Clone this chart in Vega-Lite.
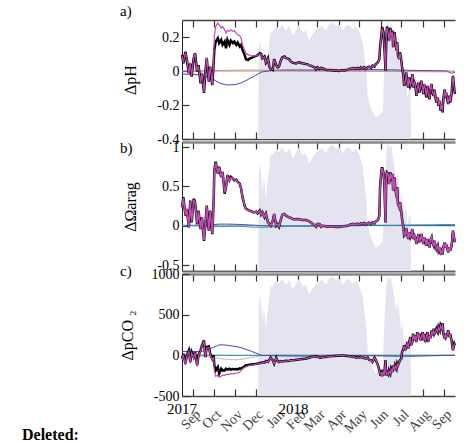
{
"$schema":"https://vega.github.io/schema/vega-lite/v6.json",
"background":"white",
"padding":{"left":22,"top":4,"right":0,"bottom":0},
"bounds":"flush",
"datasets":{
"main":[
{"t":"2017-08-16","ak":0.095,"am":0.09,"bk":0.235,"bm":0.23,"ck":-41,"cm":-55},
{"t":"2017-08-18","ak":0.045,"am":0.05,"bk":0.363,"bm":0.35,"ck":20,"cm":10},
{"t":"2017-08-21","ak":0.114,"am":0.11,"bk":0.128,"bm":0.135,"ck":-102,"cm":-120},
{"t":"2017-08-23","ak":0.065,"am":0.07,"bk":0.214,"bm":0.21,"ck":0,"cm":-10},
{"t":"2017-08-26","ak":-0.014,"am":-0.02,"bk":-0.02,"bm":-0.03,"ck":61,"cm":50},
{"t":"2017-08-28","ak":0.045,"am":0.05,"bk":0.32,"bm":0.31,"ck":-82,"cm":-95},
{"t":"2017-08-30","ak":-0.033,"am":-0.03,"bk":0.043,"bm":0.05,"ck":41,"cm":30},
{"t":"2017-09-02","ak":0.075,"am":0.08,"bk":0.342,"bm":0.33,"ck":-20,"cm":-30},
{"t":"2017-09-04","ak":0.104,"am":0.1,"bk":0.3,"bm":0.29,"ck":41,"cm":35},
{"t":"2017-09-07","ak":-0.004,"am":0,"bk":0.021,"bm":0.03,"ck":-123,"cm":-135},
{"t":"2017-09-09","ak":0.035,"am":0.03,"bk":0.192,"bm":0.19,"ck":0,"cm":-10},
{"t":"2017-09-12","ak":-0.073,"am":-0.07,"bk":-0.043,"bm":-0.04,"ck":61,"cm":55},
{"t":"2017-09-14","ak":-0.014,"am":-0.01,"bk":0.107,"bm":0.1,"ck":123,"cm":115},
{"t":"2017-09-17","ak":-0.128,"am":-0.125,"bk":-0.192,"bm":-0.185,"ck":184,"cm":170},
{"t":"2017-09-19","ak":-0.004,"am":0,"bk":0.021,"bm":0.03,"ck":-20,"cm":-30},
{"t":"2017-09-21","ak":0.075,"am":0.08,"bk":0.256,"bm":0.25,"ck":102,"cm":90},
{"t":"2017-09-24","ak":-0.063,"am":-0.06,"bk":-0.064,"bm":-0.06,"ck":111,"cm":100},
{"t":"2017-09-26","ak":0.026,"am":0.03,"bk":0.192,"bm":0.19,"ck":20,"cm":10},
{"t":"2017-09-29","ak":-0.083,"am":-0.08,"bk":-0.107,"bm":-0.1,"ck":-41,"cm":-60},
{"t":"2017-10-01","ak":0.045,"am":0.06,"bk":0.3,"bm":0.3,"ck":0,"cm":-20},
{"t":"2017-10-02","ak":0.124,"am":0.203,"bk":0.705,"bm":0.7,"ck":-123,"cm":-185},
{"t":"2017-10-04","ak":0.173,"am":0.262,"bk":0.812,"bm":0.8,"ck":-185,"cm":-258},
{"t":"2017-10-07","ak":0.193,"am":0.282,"bk":0.662,"bm":0.67,"ck":-144,"cm":-246},
{"t":"2017-10-09","ak":0.164,"am":0.272,"bk":0.748,"bm":0.74,"ck":-225,"cm":-266},
{"t":"2017-10-12","ak":0.183,"am":0.252,"bk":0.62,"bm":0.63,"ck":-164,"cm":-258},
{"t":"2017-10-14","ak":0.154,"am":0.262,"bk":0.684,"bm":0.68,"ck":-185,"cm":-246},
{"t":"2017-10-17","ak":0.173,"am":0.242,"bk":0.406,"bm":0.42,"ck":-185,"cm":-246},
{"t":"2017-10-19","ak":0.134,"am":0.223,"bk":0.491,"bm":0.49,"ck":-164,"cm":-234},
{"t":"2017-10-21","ak":0.183,"am":0.238,"bk":0.641,"bm":0.63,"ck":-176,"cm":-234},
{"t":"2017-10-24","ak":0.154,"am":0.233,"bk":0.577,"bm":0.57,"ck":-164,"cm":-234},
{"t":"2017-10-26","ak":0.179,"am":0.242,"bk":0.62,"bm":0.61,"ck":-176,"cm":-225},
{"t":"2017-10-29","ak":0.164,"am":0.233,"bk":0.598,"bm":0.6,"ck":-168,"cm":-225},
{"t":"2017-10-31","ak":0.173,"am":0.238,"bk":0.577,"bm":0.58,"ck":-172,"cm":-225},
{"t":"2017-11-03","ak":0.154,"am":0.223,"bk":0.585,"bm":0.58,"ck":-168,"cm":-217},
{"t":"2017-11-05","ak":0.167,"am":0.213,"bk":0.556,"bm":0.55,"ck":-172,"cm":-217},
{"t":"2017-11-08","ak":0.144,"am":0.207,"bk":0.534,"bm":0.53,"ck":-160,"cm":-205},
{"t":"2017-11-10","ak":0.154,"am":0.193,"bk":0.47,"bm":0.47,"ck":-164,"cm":-185},
{"t":"2017-11-12","ak":0.124,"am":0.154,"bk":0.363,"bm":0.36,"ck":-152,"cm":-165},
{"t":"2017-11-15","ak":0.095,"am":0.124,"bk":0.256,"bm":0.26,"ck":-135,"cm":-150},
{"t":"2017-11-17","ak":0.069,"am":0.104,"bk":0.214,"bm":0.21,"ck":-123,"cm":-140},
{"t":"2017-11-20","ak":0.065,"am":0.095,"bk":0.2,"bm":0.2,"ck":-119,"cm":-130},
{"t":"2017-11-22","ak":0.073,"am":0.095,"bk":0.192,"bm":0.19,"ck":-115,"cm":-125},
{"t":"2017-11-24","ak":0.075,"am":0.089,"bk":0.184,"bm":0.18,"ck":-115,"cm":-122},
{"t":"2017-11-27","ak":0.081,"am":0.089,"bk":0.171,"bm":0.17,"ck":-111,"cm":-118},
{"t":"2017-11-29","ak":0.085,"am":0.089,"bk":0.171,"bm":0.17,"ck":-111,"cm":-115},
{"t":"2017-12-02","ak":0.089,"am":0.089,"bk":0.179,"bm":0.18,"ck":-102,"cm":-108},
{"t":"2017-12-04","ak":0.093,"am":0.093,"bk":0.158,"bm":0.16,"ck":-102,"cm":-106},
{"t":"2017-12-07","ak":0.104,"am":0.1,"bk":0.192,"bm":0.19,"ck":-94,"cm":-98},
{"t":"2017-12-09","ak":0.1,"am":0.098,"bk":0.141,"bm":0.14,"ck":-94,"cm":-96},
{"t":"2017-12-11","ak":0.075,"am":0.075,"bk":0.171,"bm":0.17,"ck":-86,"cm":-90},
{"t":"2017-12-14","ak":0.085,"am":0.083,"bk":0.107,"bm":0.11,"ck":-90,"cm":-92},
{"t":"2017-12-16","ak":0.049,"am":0.05,"bk":0.15,"bm":0.15,"ck":-70,"cm":-72},
{"t":"2017-12-19","ak":0.075,"am":0.073,"bk":0.043,"bm":0.045,"ck":-82,"cm":-84},
{"t":"2017-12-21","ak":0.026,"am":0.028,"bk":0.021,"bm":0.02,"ck":-53,"cm":-55},
{"t":"2017-12-23","ak":0.01,"am":0.01,"bk":0,"bm":0,"ck":-29,"cm":-31},
{"t":"2017-12-26","ak":0.006,"am":0.008,"bk":0.064,"bm":0.06,"ck":-61,"cm":-62},
{"t":"2017-12-28","ak":0.069,"am":0.067,"bk":0.15,"bm":0.15,"ck":-102,"cm":-104},
{"t":"2017-12-31","ak":0.035,"am":0.035,"bk":0,"bm":0.002,"ck":-29,"cm":-30},
{"t":"2018-01-02","ak":0.022,"am":0.022,"bk":0.021,"bm":0.02,"ck":-70,"cm":-72},
{"t":"2018-01-04","ak":0.026,"am":0.026,"bk":-0.013,"bm":-0.01,"ck":-82,"cm":-83},
{"t":"2018-01-07","ak":0.065,"am":0.065,"bk":0.085,"bm":0.085,"ck":-70,"cm":-72},
{"t":"2018-01-09","ak":0.081,"am":0.08,"bk":0.141,"bm":0.14,"ck":-74,"cm":-75},
{"t":"2018-01-12","ak":0.085,"am":0.084,"bk":0.15,"bm":0.15,"ck":-70,"cm":-72},
{"t":"2018-01-14","ak":0.077,"am":0.077,"bk":0.128,"bm":0.13,"ck":-66,"cm":-67},
{"t":"2018-01-17","ak":0.073,"am":0.072,"bk":0.115,"bm":0.115,"ck":-70,"cm":-70},
{"t":"2018-01-19","ak":0.069,"am":0.069,"bk":0.107,"bm":0.107,"ck":-66,"cm":-66},
{"t":"2018-01-21","ak":0.055,"am":0.055,"bk":0.098,"bm":0.098,"ck":-61,"cm":-62},
{"t":"2018-01-24","ak":0.049,"am":0.05,"bk":0.085,"bm":0.085,"ck":-61,"cm":-61},
{"t":"2018-01-26","ak":0.047,"am":0.047,"bk":0.081,"bm":0.08,"ck":-61,"cm":-60},
{"t":"2018-01-29","ak":0.045,"am":0.045,"bk":0.081,"bm":0.08,"ck":-53,"cm":-54},
{"t":"2018-01-31","ak":0.049,"am":0.048,"bk":0.085,"bm":0.085,"ck":-53,"cm":-53},
{"t":"2018-02-03","ak":0.051,"am":0.05,"bk":0.081,"bm":0.08,"ck":-49,"cm":-50},
{"t":"2018-02-05","ak":0.047,"am":0.047,"bk":0.077,"bm":0.077,"ck":-49,"cm":-48},
{"t":"2018-02-07","ak":0.045,"am":0.045,"bk":0.073,"bm":0.073,"ck":-45,"cm":-45},
{"t":"2018-02-10","ak":0.043,"am":0.043,"bk":0.073,"bm":0.072,"ck":-41,"cm":-42},
{"t":"2018-02-12","ak":0.041,"am":0.041,"bk":0.073,"bm":0.072,"ck":-41,"cm":-40},
{"t":"2018-02-15","ak":0.039,"am":0.039,"bk":0.064,"bm":0.064,"ck":-33,"cm":-34},
{"t":"2018-02-17","ak":0.033,"am":0.033,"bk":0.056,"bm":0.056,"ck":-29,"cm":-30},
{"t":"2018-02-20","ak":0.031,"am":0.031,"bk":0.038,"bm":0.038,"ck":-20,"cm":-22},
{"t":"2018-02-22","ak":0.026,"am":0.026,"bk":0.021,"bm":0.022,"ck":-16,"cm":-17},
{"t":"2018-02-25","ak":0.022,"am":0.022,"bk":0.009,"bm":0.01,"ck":-12,"cm":-14},
{"t":"2018-02-27","ak":0.01,"am":0.01,"bk":-0.013,"bm":-0.012,"ck":-20,"cm":-21},
{"t":"2018-03-01","ak":0.022,"am":0.021,"bk":0.021,"bm":0.02,"ck":-12,"cm":-14},
{"t":"2018-03-04","ak":0.012,"am":0.014,"bk":0.021,"bm":0.02,"ck":-29,"cm":-31},
{"t":"2018-03-06","ak":0.018,"am":0.017,"bk":-0.013,"bm":-0.01,"ck":-29,"cm":-30},
{"t":"2018-03-08","ak":0.016,"am":0.015,"bk":0,"bm":0.002,"ck":-25,"cm":-26},
{"t":"2018-03-11","ak":0.012,"am":0.012,"bk":-0.004,"bm":-0.004,"ck":-20,"cm":-22},
{"t":"2018-03-13","ak":0.008,"am":0.009,"bk":-0.008,"bm":-0.008,"ck":-20,"cm":-20},
{"t":"2018-03-15","ak":0.006,"am":0.006,"bk":-0.013,"bm":-0.012,"ck":-16,"cm":-17},
{"t":"2018-03-18","ak":0.006,"am":0.005,"bk":-0.013,"bm":-0.013,"ck":-12,"cm":-13},
{"t":"2018-03-20","ak":0.004,"am":0.004,"bk":-0.008,"bm":-0.009,"ck":-12,"cm":-12},
{"t":"2018-03-23","ak":0.006,"am":0.006,"bk":-0.013,"bm":-0.012,"ck":-8,"cm":-9},
{"t":"2018-03-25","ak":0.002,"am":0.003,"bk":-0.013,"bm":-0.013,"ck":-8,"cm":-8},
{"t":"2018-03-28","ak":0.004,"am":0.004,"bk":-0.017,"bm":-0.016,"ck":-4,"cm":-5},
{"t":"2018-03-30","ak":0.002,"am":0.002,"bk":-0.013,"bm":-0.013,"ck":-4,"cm":-4},
{"t":"2018-04-02","ak":0,"am":0.001,"bk":-0.017,"bm":-0.016,"ck":-4,"cm":-5},
{"t":"2018-04-04","ak":0.002,"am":0.002,"bk":-0.013,"bm":-0.013,"ck":-4,"cm":-4},
{"t":"2018-04-06","ak":0.004,"am":0.003,"bk":-0.008,"bm":-0.008,"ck":0,"cm":-1},
{"t":"2018-04-09","ak":0.002,"am":0.002,"bk":-0.008,"bm":-0.008,"ck":-4,"cm":-4},
{"t":"2018-04-11","ak":0.006,"am":0.006,"bk":-0.004,"bm":-0.004,"ck":-4,"cm":-5},
{"t":"2018-04-14","ak":0.008,"am":0.008,"bk":0,"bm":0,"ck":-8,"cm":-8},
{"t":"2018-04-16","ak":0.012,"am":0.011,"bk":0.008,"bm":0.008,"ck":-12,"cm":-12},
{"t":"2018-04-18","ak":0.014,"am":0.014,"bk":0.017,"bm":0.016,"ck":-12,"cm":-13},
{"t":"2018-04-21","ak":0.016,"am":0.016,"bk":0.021,"bm":0.02,"ck":-20,"cm":-20},
{"t":"2018-04-23","ak":0.018,"am":0.017,"bk":0.021,"bm":0.021,"ck":-16,"cm":-17},
{"t":"2018-04-26","ak":0.014,"am":0.014,"bk":0.017,"bm":0.017,"ck":-29,"cm":-29},
{"t":"2018-04-28","ak":0.018,"am":0.018,"bk":0.025,"bm":0.024,"ck":-20,"cm":-21},
{"t":"2018-05-01","ak":0.012,"am":0.012,"bk":0.013,"bm":0.013,"ck":-29,"cm":-30},
{"t":"2018-05-03","ak":0.022,"am":0.021,"bk":0.03,"bm":0.03,"ck":-20,"cm":-21},
{"t":"2018-05-06","ak":0.016,"am":0.016,"bk":0.021,"bm":0.021,"ck":-33,"cm":-34},
{"t":"2018-05-08","ak":0.022,"am":0.022,"bk":0.034,"bm":0.033,"ck":-29,"cm":-29},
{"t":"2018-05-10","ak":0.012,"am":0.012,"bk":0.013,"bm":0.014,"ck":-41,"cm":-42},
{"t":"2018-05-13","ak":0.022,"am":0.021,"bk":0.03,"bm":0.03,"ck":-29,"cm":-30},
{"t":"2018-05-15","ak":0.026,"am":0.026,"bk":0.038,"bm":0.037,"ck":-53,"cm":-54},
{"t":"2018-05-18","ak":0.018,"am":0.018,"bk":0.021,"bm":0.022,"ck":-61,"cm":-62},
{"t":"2018-05-20","ak":0.032,"am":0.031,"bk":0.042,"bm":0.042,"ck":-82,"cm":-83},
{"t":"2018-05-23","ak":0.026,"am":0.026,"bk":0.03,"bm":0.03,"ck":-29,"cm":-30},
{"t":"2018-05-25","ak":0.041,"am":0.04,"bk":0.055,"bm":0.054,"ck":-61,"cm":-62},
{"t":"2018-05-28","ak":0.051,"am":0.05,"bk":0.072,"bm":0.07,"ck":-123,"cm":-125},
{"t":"2018-05-30","ak":0.071,"am":0.07,"bk":0.127,"bm":0.12,"ck":-185,"cm":-190},
{"t":"2018-05-31","ak":0.14,"am":0.135,"bk":0.487,"bm":0.48,"ck":-225,"cm":-230},
{"t":"2018-06-02","ak":0.209,"am":0.205,"bk":0.699,"bm":0.69,"ck":-205,"cm":-210},
{"t":"2018-06-03","ak":0.258,"am":0.25,"bk":0.742,"bm":0.73,"ck":-258,"cm":-262},
{"t":"2018-06-05","ak":0.229,"am":0.225,"bk":0.678,"bm":0.67,"ck":-185,"cm":-190},
{"t":"2018-06-06","ak":0.16,"am":0.158,"bk":0.572,"bm":0.565,"ck":-246,"cm":-250},
{"t":"2018-06-08","ak":0.002,"am":0.005,"bk":0.042,"bm":0.045,"ck":-60,"cm":-64},
{"t":"2018-06-09","ak":0.17,"am":0.165,"bk":0.614,"bm":0.605,"ck":-246,"cm":-250},
{"t":"2018-06-10","ak":0.262,"am":0.255,"bk":0.678,"bm":0.67,"ck":-205,"cm":-210},
{"t":"2018-06-12","ak":0.229,"am":0.225,"bk":0.657,"bm":0.65,"ck":-234,"cm":-238},
{"t":"2018-06-13","ak":0.179,"am":0.176,"bk":0.53,"bm":0.525,"ck":-185,"cm":-190},
{"t":"2018-06-15","ak":0.254,"am":0.248,"bk":0.678,"bm":0.67,"ck":-225,"cm":-230},
{"t":"2018-06-16","ak":0.209,"am":0.205,"bk":0.614,"bm":0.61,"ck":-164,"cm":-168},
{"t":"2018-06-18","ak":0.238,"am":0.232,"bk":0.657,"bm":0.65,"ck":-205,"cm":-210},
{"t":"2018-06-19","ak":0.14,"am":0.138,"bk":0.445,"bm":0.44,"ck":-123,"cm":-127},
{"t":"2018-06-21","ak":0.229,"am":0.224,"bk":0.614,"bm":0.61,"ck":-185,"cm":-190},
{"t":"2018-06-22","ak":0.189,"am":0.185,"bk":0.487,"bm":0.48,"ck":-123,"cm":-127},
{"t":"2018-06-24","ak":0.12,"am":0.118,"bk":0.36,"bm":0.355,"ck":-164,"cm":-168},
{"t":"2018-06-25","ak":0.169,"am":0.165,"bk":0.487,"bm":0.48,"ck":-102,"cm":-106},
{"t":"2018-06-26","ak":0.091,"am":0.09,"bk":0.275,"bm":0.27,"ck":-123,"cm":-126},
{"t":"2018-06-28","ak":0.071,"am":0.07,"bk":0.233,"bm":0.23,"ck":-82,"cm":-85},
{"t":"2018-06-29","ak":0.11,"am":0.107,"bk":0.297,"bm":0.29,"ck":-61,"cm":-64},
{"t":"2018-07-01","ak":0.061,"am":0.06,"bk":0.169,"bm":0.165,"ck":-41,"cm":-44},
{"t":"2018-07-02","ak":0.022,"am":0.022,"bk":0.085,"bm":0.083,"ck":41,"cm":38},
{"t":"2018-07-04","ak":-0.028,"am":-0.027,"bk":-0.021,"bm":-0.02,"ck":82,"cm":79},
{"t":"2018-07-05","ak":-0.087,"am":-0.085,"bk":-0.127,"bm":-0.125,"ck":123,"cm":120},
{"t":"2018-07-07","ak":-0.067,"am":-0.066,"bk":-0.106,"bm":-0.105,"ck":61,"cm":58},
{"t":"2018-07-08","ak":-0.008,"am":-0.009,"bk":-0.03,"bm":-0.03,"ck":102,"cm":99},
{"t":"2018-07-10","ak":-0.077,"am":-0.076,"bk":-0.127,"bm":-0.125,"ck":164,"cm":160},
{"t":"2018-07-11","ak":-0.097,"am":-0.095,"bk":-0.169,"bm":-0.166,"ck":82,"cm":79},
{"t":"2018-07-12","ak":-0.037,"am":-0.037,"bk":-0.085,"bm":-0.084,"ck":143,"cm":140},
{"t":"2018-07-14","ak":-0.087,"am":-0.086,"bk":-0.148,"bm":-0.146,"ck":225,"cm":221},
{"t":"2018-07-15","ak":-0.077,"am":-0.076,"bk":-0.127,"bm":-0.125,"ck":123,"cm":120},
{"t":"2018-07-17","ak":-0.018,"am":-0.019,"bk":-0.042,"bm":-0.042,"ck":164,"cm":160},
{"t":"2018-07-18","ak":-0.097,"am":-0.095,"bk":-0.169,"bm":-0.166,"ck":266,"cm":262},
{"t":"2018-07-20","ak":-0.067,"am":-0.066,"bk":-0.127,"bm":-0.125,"ck":184,"cm":180},
{"t":"2018-07-21","ak":-0.077,"am":-0.076,"bk":-0.148,"bm":-0.146,"ck":246,"cm":242},
{"t":"2018-07-23","ak":-0.146,"am":-0.143,"bk":-0.233,"bm":-0.23,"ck":164,"cm":160},
{"t":"2018-07-24","ak":-0.108,"am":-0.106,"bk":-0.169,"bm":-0.167,"ck":287,"cm":283},
{"t":"2018-07-26","ak":-0.067,"am":-0.066,"bk":-0.106,"bm":-0.105,"ck":205,"cm":201},
{"t":"2018-07-27","ak":-0.126,"am":-0.124,"bk":-0.212,"bm":-0.21,"ck":266,"cm":262},
{"t":"2018-07-29","ak":-0.097,"am":-0.095,"bk":-0.169,"bm":-0.167,"ck":184,"cm":180},
{"t":"2018-07-30","ak":-0.057,"am":-0.056,"bk":-0.106,"bm":-0.105,"ck":225,"cm":221},
{"t":"2018-08-01","ak":-0.108,"am":-0.106,"bk":-0.191,"bm":-0.189,"ck":287,"cm":283},
{"t":"2018-08-02","ak":-0.136,"am":-0.134,"bk":-0.233,"bm":-0.23,"ck":184,"cm":180},
{"t":"2018-08-03","ak":-0.077,"am":-0.076,"bk":-0.148,"bm":-0.146,"ck":266,"cm":262},
{"t":"2018-08-05","ak":-0.108,"am":-0.106,"bk":-0.191,"bm":-0.189,"ck":164,"cm":160},
{"t":"2018-08-06","ak":-0.156,"am":-0.153,"bk":-0.254,"bm":-0.251,"ck":225,"cm":221},
{"t":"2018-08-08","ak":-0.087,"am":-0.086,"bk":-0.169,"bm":-0.167,"ck":287,"cm":283},
{"t":"2018-08-09","ak":-0.136,"am":-0.134,"bk":-0.233,"bm":-0.23,"ck":164,"cm":160},
{"t":"2018-08-11","ak":-0.166,"am":-0.163,"bk":-0.275,"bm":-0.272,"ck":246,"cm":242},
{"t":"2018-08-12","ak":-0.116,"am":-0.114,"bk":-0.191,"bm":-0.189,"ck":205,"cm":201},
{"t":"2018-08-14","ak":-0.077,"am":-0.076,"bk":-0.148,"bm":-0.146,"ck":307,"cm":303},
{"t":"2018-08-15","ak":-0.126,"am":-0.124,"bk":-0.212,"bm":-0.21,"ck":246,"cm":242},
{"t":"2018-08-17","ak":-0.146,"am":-0.143,"bk":-0.254,"bm":-0.251,"ck":328,"cm":324},
{"t":"2018-08-18","ak":-0.108,"am":-0.106,"bk":-0.191,"bm":-0.189,"ck":266,"cm":262},
{"t":"2018-08-20","ak":-0.166,"am":-0.163,"bk":-0.267,"bm":-0.264,"ck":300,"cm":296},
{"t":"2018-08-21","ak":-0.185,"am":-0.182,"bk":-0.297,"bm":-0.294,"ck":328,"cm":324},
{"t":"2018-08-23","ak":-0.156,"am":-0.153,"bk":-0.254,"bm":-0.251,"ck":287,"cm":283},
{"t":"2018-08-24","ak":-0.205,"am":-0.202,"bk":-0.318,"bm":-0.315,"ck":348,"cm":344},
{"t":"2018-08-26","ak":-0.175,"am":-0.172,"bk":-0.275,"bm":-0.272,"ck":307,"cm":303},
{"t":"2018-08-27","ak":-0.234,"am":-0.23,"bk":-0.36,"bm":-0.356,"ck":370,"cm":366},
{"t":"2018-08-29","ak":-0.205,"am":-0.202,"bk":-0.318,"bm":-0.315,"ck":328,"cm":324},
{"t":"2018-08-30","ak":-0.244,"am":-0.24,"bk":-0.369,"bm":-0.365,"ck":395,"cm":390},
{"t":"2018-08-31","ak":-0.166,"am":-0.163,"bk":-0.275,"bm":-0.272,"ck":266,"cm":262},
{"t":"2018-09-02","ak":-0.108,"am":-0.106,"bk":-0.212,"bm":-0.21,"ck":205,"cm":201},
{"t":"2018-09-03","ak":-0.156,"am":-0.153,"bk":-0.275,"bm":-0.272,"ck":266,"cm":262},
{"t":"2018-09-04","ak":-0.126,"am":-0.124,"bk":-0.233,"bm":-0.23,"ck":225,"cm":221},
{"t":"2018-09-06","ak":-0.166,"am":-0.163,"bk":-0.297,"bm":-0.294,"ck":266,"cm":262},
{"t":"2018-09-07","ak":-0.195,"am":-0.192,"bk":-0.339,"bm":-0.335,"ck":307,"cm":303},
{"t":"2018-09-09","ak":-0.146,"am":-0.143,"bk":-0.275,"bm":-0.272,"ck":225,"cm":221},
{"t":"2018-09-10","ak":-0.185,"am":-0.182,"bk":-0.318,"bm":-0.315,"ck":266,"cm":262},
{"t":"2018-09-12","ak":-0.136,"am":-0.134,"bk":-0.254,"bm":-0.251,"ck":184,"cm":180},
{"t":"2018-09-13","ak":-0.077,"am":-0.076,"bk":-0.169,"bm":-0.167,"ck":123,"cm":120},
{"t":"2018-09-14","ak":-0.028,"am":-0.028,"bk":-0.064,"bm":-0.063,"ck":61,"cm":58},
{"t":"2018-09-16","ak":-0.108,"am":-0.106,"bk":-0.169,"bm":-0.167,"ck":143,"cm":140},
{"t":"2018-09-17","ak":-0.136,"am":-0.134,"bk":-0.212,"bm":-0.21,"ck":123,"cm":120}
],
"minor":[
{"t":"2017-08-16","ab":-0.018,"ar":0,"bb":0.005,"bt":0,"cb":49,"cg":-10,"ct":5},
{"t":"2017-09-01","ab":-0.02,"ar":0,"bb":0.005,"bt":0,"cb":45,"cg":-10,"ct":5},
{"t":"2017-09-15","ab":-0.025,"ar":0.001,"bb":0.008,"bt":-0.005,"cb":50,"cg":-15,"ct":3},
{"t":"2017-10-01","ab":-0.05,"ar":0.002,"bb":0.015,"bt":-0.01,"cb":100,"cg":-25,"ct":0},
{"t":"2017-10-10","ab":-0.072,"ar":0.003,"bb":0.02,"bt":-0.012,"cb":130,"cg":-40,"ct":0},
{"t":"2017-10-20","ab":-0.082,"ar":0.004,"bb":0.02,"bt":-0.01,"cb":125,"cg":-50,"ct":0},
{"t":"2017-11-01","ab":-0.08,"ar":0.005,"bb":0.018,"bt":-0.008,"cb":110,"cg":-55,"ct":0},
{"t":"2017-11-10","ab":-0.07,"ar":0.006,"bb":0.015,"bt":-0.01,"cb":94,"cg":-50,"ct":0},
{"t":"2017-11-20","ab":-0.05,"ar":0.007,"bb":0.01,"bt":-0.015,"cb":65,"cg":-35,"ct":0},
{"t":"2017-12-01","ab":-0.025,"ar":0.006,"bb":0.005,"bt":-0.02,"cb":30,"cg":-15,"ct":0},
{"t":"2017-12-10","ab":-0.006,"ar":0.005,"bb":0,"bt":-0.02,"cb":0,"cg":-5,"ct":0},
{"t":"2017-12-25","ab":0.004,"ar":0.003,"bb":-0.005,"bt":-0.015,"cb":-5,"cg":5,"ct":0},
{"t":"2018-01-15","ab":0.006,"ar":0.002,"bb":-0.005,"bt":-0.01,"cb":-8,"cg":5,"ct":0},
{"t":"2018-02-15","ab":0.006,"ar":0.001,"bb":-0.005,"bt":-0.005,"cb":-10,"cg":3,"ct":0},
{"t":"2018-03-15","ab":0.006,"ar":0,"bb":-0.004,"bt":0,"cb":-8,"cg":2,"ct":0},
{"t":"2018-04-15","ab":0.007,"ar":0,"bb":0,"bt":0.005,"cb":-5,"cg":0,"ct":0},
{"t":"2018-05-15","ab":0.008,"ar":-0.001,"bb":0.003,"bt":0.008,"cb":-5,"cg":0,"ct":0},
{"t":"2018-06-15","ab":0.007,"ar":-0.002,"bb":0.003,"bt":0.005,"cb":-10,"cg":0,"ct":0},
{"t":"2018-07-15","ab":0.004,"ar":-0.004,"bb":0.002,"bt":0.01,"cb":-12,"cg":0,"ct":0},
{"t":"2018-08-15","ab":0.002,"ar":-0.005,"bb":0.002,"bt":0.012,"cb":-5,"cg":0,"ct":0},
{"t":"2018-09-05","ab":0,"ar":-0.005,"bb":0.001,"bt":0.015,"cb":0,"cg":0,"ct":0},
{"t":"2018-09-12","ab":-0.014,"ar":-0.005,"bb":0.001,"bt":0.015,"cb":0,"cg":0,"ct":0},
{"t":"2018-09-17","ab":-0.006,"ar":-0.005,"bb":0.001,"bt":0.015,"cb":0,"cg":0,"ct":0}
],
"ice":[
{"t":"2017-12-05T00:00:00","f":0},{"t":"2017-12-05T12:00:00","f":0.76},{"t":"2017-12-08","f":0.83},{"t":"2017-12-11","f":0.61},{"t":"2017-12-13","f":0.73},{"t":"2017-12-16","f":0.56},{"t":"2017-12-18","f":0.67},{"t":"2017-12-21","f":0.81},{"t":"2017-12-23","f":0.91},{"t":"2017-12-26","f":0.9},{"t":"2017-12-30","f":0.94},
{"t":"2018-01-04","f":0.92},{"t":"2018-01-09","f":0.96},{"t":"2018-01-14","f":0.91},{"t":"2018-01-19","f":0.95},{"t":"2018-01-24","f":0.87},{"t":"2018-01-29","f":0.92},{"t":"2018-02-02","f":0.96},{"t":"2018-02-07","f":0.9},{"t":"2018-02-12","f":0.91},{"t":"2018-02-17","f":0.83},{"t":"2018-02-22","f":0.88},{"t":"2018-02-27","f":0.92},
{"t":"2018-03-04","f":0.94},{"t":"2018-03-08","f":0.95},{"t":"2018-03-13","f":0.91},{"t":"2018-03-18","f":0.96},{"t":"2018-03-23","f":0.98},{"t":"2018-03-28","f":0.95},{"t":"2018-04-02","f":0.96},{"t":"2018-04-07","f":0.91},{"t":"2018-04-11","f":0.95},{"t":"2018-04-16","f":0.96},{"t":"2018-04-21","f":0.92},{"t":"2018-04-26","f":0.95},
{"t":"2018-05-01","f":0.9},{"t":"2018-05-06","f":0.81},{"t":"2018-05-08","f":0.7},{"t":"2018-05-11","f":0.56},{"t":"2018-05-13","f":0.37},{"t":"2018-05-16","f":0.29},{"t":"2018-05-20","f":0.23},{"t":"2018-05-25","f":0.18},{"t":"2018-05-30","f":0.2},{"t":"2018-06-04","f":0.23},{"t":"2018-06-06","f":0.56},{"t":"2018-06-09","f":0.9},{"t":"2018-06-11","f":0.99},{"t":"2018-06-14","f":0.95},{"t":"2018-06-16","f":0.98},{"t":"2018-06-19","f":0.87},{"t":"2018-06-21","f":0.79},{"t":"2018-06-23","f":0.7},{"t":"2018-06-26","f":0.76},{"t":"2018-06-28","f":0.67},
{"t":"2018-07-01","f":0.54},{"t":"2018-07-03","f":0.59},{"t":"2018-07-05","f":0.43},{"t":"2018-07-08","f":0.49},{"t":"2018-07-10","f":0.34},{"t":"2018-07-12","f":0.43},{"t":"2018-07-14T12:00:00","f":0.43},{"t":"2018-07-15","f":0}
]
},
"title":{"text":"Deleted:","orient":"bottom","anchor":"start","frame":"bounds","dx":-97,"offset":-8,"fontSize":16,"fontWeight":"bold","font":"Liberation Serif","color":"#000"},
"spacing":3,
"vconcat":[
{
"width":273,"height":119,
"title":{"text":"a)","anchor":"start","frame":"group","dx":-62,"offset":0,"fontSize":15},
"layer":[
{"data":{"name":"ice"},"mark":{"type":"area","color":"#e4e4f1"},
"encoding":{"x":{"field":"t","type":"temporal","scale":{"domain":[{"year":2017,"month":8,"date":16},{"year":2018,"month":9,"date":17}]},"axis":{"orient":"top","labels":false,"title":null,"tickCount":{"interval":"month","step":1},"domainColor":"#444","domainWidth":1.5,"tickSize":-7}},
"y":{"field":"f","type":"quantitative","scale":{"domain":[0,1],"nice":false},"axis":null}}},
{"data":{"values":[{}]},"mark":{"type":"rule","color":"#999","strokeWidth":1},"encoding":{"y":{"datum":0,"type":"quantitative","scale":{"domain":[-0.4,0.3],"nice":false},"axis":null}}},
{"data":{"name":"minor"},"mark":{"type":"line","color":"#3b4cc0","strokeWidth":1},"encoding":{"x":{"field":"t","type":"temporal","scale":{"domain":[{"year":2017,"month":8,"date":16},{"year":2018,"month":9,"date":17}]},"axis":null},"y":{"field":"ab","type":"quantitative","scale":{"domain":[-0.4,0.3],"nice":false},"axis":null}}},
{"data":{"name":"minor"},"mark":{"type":"line","color":"#e0603a","strokeWidth":0.8,"opacity":0.7},"encoding":{"x":{"field":"t","type":"temporal","scale":{"domain":[{"year":2017,"month":8,"date":16},{"year":2018,"month":9,"date":17}]},"axis":null},"y":{"field":"ar","type":"quantitative","scale":{"domain":[-0.4,0.3],"nice":false},"axis":null}}},
{"data":{"name":"main"},"mark":{"type":"line","color":"#000","strokeWidth":2.5},"encoding":{"x":{"field":"t","type":"temporal","scale":{"domain":[{"year":2017,"month":8,"date":16},{"year":2018,"month":9,"date":17}]},"axis":{"orient":"bottom","labels":false,"title":null,"tickCount":{"interval":"month","step":1},"domainColor":"#444","domainWidth":1.5,"tickSize":-7}},
"y":{"field":"ak","type":"quantitative","scale":{"domain":[-0.4,0.3],"nice":false},"axis":{"orient":"left","values":[-0.4,-0.2,0,0.2],"labelExpr":"replace(format(datum.value,''),'\u2212','-')","title":"ΔpH","titleX":-52,"titleBaseline":"middle","tickSize":-7,"labelPadding":10}}}},
{"data":{"name":"main"},"mark":{"type":"line","color":"#c04cb0","strokeWidth":1.2},"encoding":{"x":{"field":"t","type":"temporal","scale":{"domain":[{"year":2017,"month":8,"date":16},{"year":2018,"month":9,"date":17}]},"axis":null},"y":{"field":"am","type":"quantitative","scale":{"domain":[-0.4,0.3],"nice":false},"axis":null}}}
],
"resolve":{"scale":{"y":"independent"},"axis":{"x":"independent","y":"independent"}}
},
{
"width":273,"height":129,
"title":{"text":"b)","anchor":"start","frame":"group","dx":-62,"dy":16,"offset":0,"fontSize":15},
"layer":[
{"data":{"name":"ice"},"mark":{"type":"area","color":"#e4e4f1"},
"encoding":{"x":{"field":"t","type":"temporal","scale":{"domain":[{"year":2017,"month":8,"date":16},{"year":2018,"month":9,"date":17}]},"axis":{"orient":"top","labels":false,"title":null,"tickCount":{"interval":"month","step":1},"domainColor":"#888","domainWidth":2.5,"tickSize":-7}},
"y":{"field":"f","type":"quantitative","scale":{"domain":[0,1],"nice":false},"axis":null}}},
{"data":{"values":[{}]},"mark":{"type":"rule","color":"#999","strokeWidth":1},"encoding":{"y":{"datum":0,"type":"quantitative","scale":{"domain":[-0.576,1.064],"nice":false},"axis":null}}},
{"data":{"name":"minor"},"mark":{"type":"line","color":"#3b4cc0","strokeWidth":1},"encoding":{"x":{"field":"t","type":"temporal","scale":{"domain":[{"year":2017,"month":8,"date":16},{"year":2018,"month":9,"date":17}]},"axis":null},"y":{"field":"bb","type":"quantitative","scale":{"domain":[-0.576,1.064],"nice":false},"axis":null}}},
{"data":{"name":"minor"},"mark":{"type":"line","color":"#2aa198","strokeWidth":1},"encoding":{"x":{"field":"t","type":"temporal","scale":{"domain":[{"year":2017,"month":8,"date":16},{"year":2018,"month":9,"date":17}]},"axis":null},"y":{"field":"bt","type":"quantitative","scale":{"domain":[-0.576,1.064],"nice":false},"axis":null}}},
{"data":{"name":"main"},"mark":{"type":"line","color":"#000","strokeWidth":2.5},"encoding":{"x":{"field":"t","type":"temporal","scale":{"domain":[{"year":2017,"month":8,"date":16},{"year":2018,"month":9,"date":17}]},"axis":{"orient":"bottom","labels":false,"title":null,"tickCount":{"interval":"month","step":1},"domainColor":"#666","domainWidth":2,"tickSize":-7}},
"y":{"field":"bk","type":"quantitative","scale":{"domain":[-0.576,1.064],"nice":false},"axis":{"orient":"left","values":[-0.5,0,0.5,1],"labelExpr":"replace(format(datum.value,''),'\u2212','-')","title":"ΔΩarag","titleX":-52,"titleBaseline":"middle","tickSize":-7,"labelPadding":10}}}},
{"data":{"name":"main"},"mark":{"type":"line","color":"#c04cb0","strokeWidth":1.6},"encoding":{"x":{"field":"t","type":"temporal","scale":{"domain":[{"year":2017,"month":8,"date":16},{"year":2018,"month":9,"date":17}]},"axis":null},"y":{"field":"bm","type":"quantitative","scale":{"domain":[-0.576,1.064],"nice":false},"axis":null}}}
],
"resolve":{"scale":{"y":"independent"},"axis":{"x":"independent","y":"independent"}}
},
{
"width":273,"height":122,
"title":{"text":"c)","anchor":"start","frame":"group","dx":-62,"dy":12,"offset":0,"fontSize":15},
"layer":[
{"data":{"name":"ice"},"mark":{"type":"area","color":"#e4e4f1"},
"encoding":{"x":{"field":"t","type":"temporal","scale":{"domain":[{"year":2017,"month":8,"date":16},{"year":2018,"month":9,"date":17}]},"axis":{"orient":"top","labels":false,"title":null,"tickCount":{"interval":"month","step":1},"domainColor":"#888","domainWidth":2.5,"tickSize":-7}},
"y":{"field":"f","type":"quantitative","scale":{"domain":[0,1],"nice":false},"axis":null}}},
{"data":{"values":[{}]},"mark":{"type":"rule","color":"#999","strokeWidth":1},"encoding":{"y":{"datum":0,"type":"quantitative","scale":{"domain":[-500,1000],"nice":false},"axis":null}}},
{"data":{"name":"minor"},"mark":{"type":"line","color":"#bbbbbb","strokeWidth":1},"encoding":{"x":{"field":"t","type":"temporal","scale":{"domain":[{"year":2017,"month":8,"date":16},{"year":2018,"month":9,"date":17}]},"axis":null},"y":{"field":"cg","type":"quantitative","scale":{"domain":[-500,1000],"nice":false},"axis":null}}},
{"data":{"name":"minor"},"mark":{"type":"line","color":"#2aa198","strokeWidth":1},"encoding":{"x":{"field":"t","type":"temporal","scale":{"domain":[{"year":2017,"month":8,"date":16},{"year":2018,"month":9,"date":17}]},"axis":null},"y":{"field":"ct","type":"quantitative","scale":{"domain":[-500,1000],"nice":false},"axis":null}}},
{"data":{"name":"minor"},"mark":{"type":"line","color":"#3b4cc0","strokeWidth":1},"encoding":{"x":{"field":"t","type":"temporal","scale":{"domain":[{"year":2017,"month":8,"date":16},{"year":2018,"month":9,"date":17}]},"axis":null},"y":{"field":"cb","type":"quantitative","scale":{"domain":[-500,1000],"nice":false},"axis":null}}},
{"data":{"name":"main"},"mark":{"type":"line","color":"#000","strokeWidth":2.5},"encoding":{"x":{"field":"t","type":"temporal","scale":{"domain":[{"year":2017,"month":8,"date":16},{"year":2018,"month":9,"date":17}]},"axis":{"orient":"bottom","labels":true,"title":null,"format":"%b","tickCount":{"interval":"month","step":1},"labelAngle":-45,"labelAlign":"right","labelBaseline":"top","labelPadding":18,"labelColor":"#444","labelFlush":false,"labelOverlap":false,"domainColor":"#444","domainWidth":1.5,"tickSize":-7}},
"y":{"field":"ck","type":"quantitative","scale":{"domain":[-500,1000],"nice":false},"axis":{"orient":"left","values":[-500,0,500,1000],"labelExpr":"replace(format(datum.value,''),'\u2212','-')","title":"ΔpCO ₂","titleX":-55,"titleBaseline":"middle","tickSize":-7,"labelPadding":10}}}},
{"data":{"name":"main"},"mark":{"type":"line","color":"#c04cb0","strokeWidth":1.2},"encoding":{"x":{"field":"t","type":"temporal","scale":{"domain":[{"year":2017,"month":8,"date":16},{"year":2018,"month":9,"date":17}]},"axis":null},"y":{"field":"cm","type":"quantitative","scale":{"domain":[-500,1000],"nice":false},"axis":null}}},
{"data":{"values":[{"t":"2017-08-16","lab":"2017"},{"t":"2018-01-25","lab":"2018"}]},"mark":{"type":"text","baseline":"top","dy":6,"fontSize":15,"font":"Liberation Serif","color":"#000"},"encoding":{"x":{"field":"t","type":"temporal","scale":{"domain":[{"year":2017,"month":8,"date":16},{"year":2018,"month":9,"date":17}]},"axis":null},"y":{"datum":-500,"type":"quantitative","scale":{"domain":[-500,1000],"nice":false},"axis":null},"text":{"field":"lab"}}}
],
"resolve":{"scale":{"y":"independent"},"axis":{"x":"independent","y":"independent"}}
}
],
"config":{
"view":{"stroke":null},
"font":"Liberation Serif",
"title":{"font":"Liberation Serif","fontWeight":"normal","color":"#000"},
"axis":{"labelFont":"Liberation Serif","labelFontSize":14,"labelColor":"#000","titleFont":"Liberation Serif","titleFontSize":16,"titleFontWeight":"normal","titleColor":"#000","grid":false,"tickColor":"#333","tickWidth":1.2,"domainColor":"#222","labelFlush":false}
}
}
